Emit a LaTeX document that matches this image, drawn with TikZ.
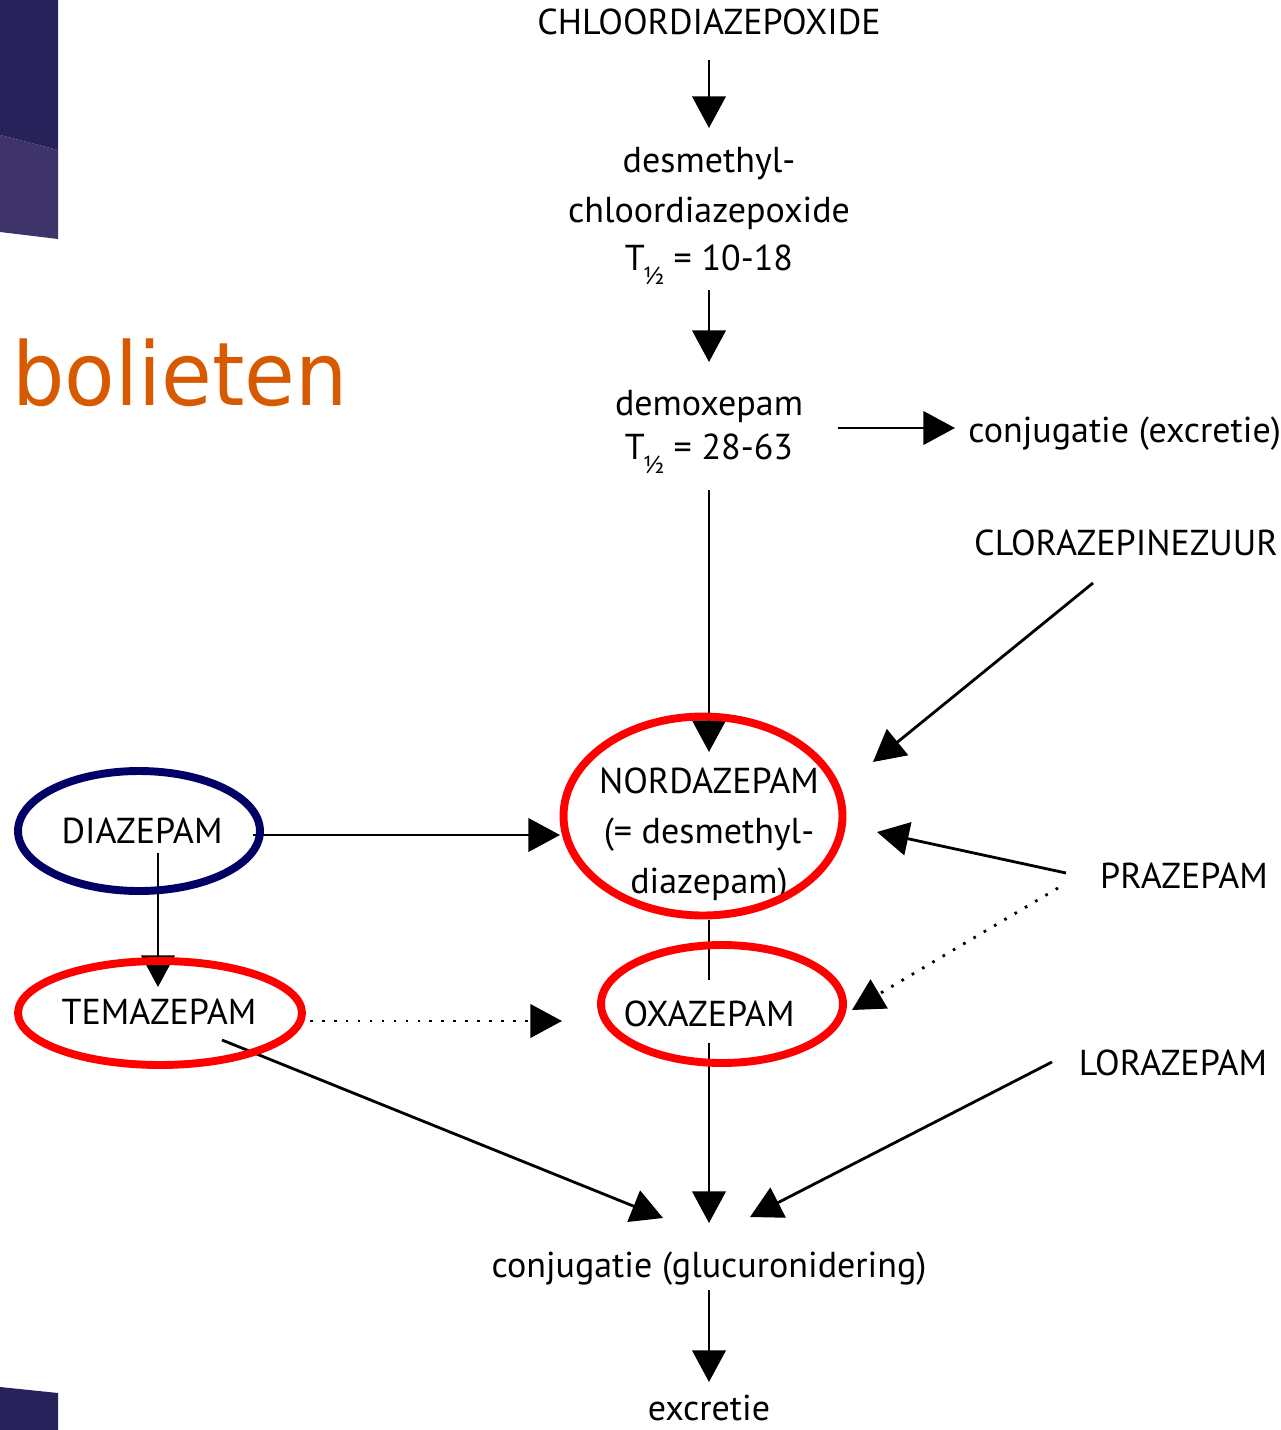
\documentclass[tikz,border=0pt]{standalone}
\usepackage{fontspec}
\setmainfont{PT Sans}
\newfontfamily\titlefont[FakeStretch=0.94]{DejaVu Sans}
\usetikzlibrary{arrows.meta,calc,shapes.geometric}
\definecolor{navyA}{HTML}{272259}
\definecolor{purpA}{HTML}{3E3469}
\definecolor{ringnavy}{HTML}{000066}
\definecolor{ringred}{HTML}{FF0000}
\definecolor{titleorange}{HTML}{D75A00}
\newcommand\halfsub{\kern-1pt\raisebox{-8.5pt}{\fontsize{14pt}{14pt}\selectfont ½}}
\begin{document}
\begin{tikzpicture}[x=0.02cm,y=-0.02cm,
  lbl/.style={inner sep=0pt, anchor=base, font=\fontsize{20.5pt}{24pt}\selectfont},
  arr/.style={line width=1.6pt, -{Triangle[width=19pt,length=18pt]}},
  plain/.style={line width=1.6pt},
  dotarr/.style={arr, dash pattern=on 1.5pt off 5.3pt},
  ring/.style={draw=#1, line width=4.5pt, ellipse, inner sep=0pt}]
\useasboundingbox (0,0) rectangle (1281,1430);
% decoration
\fill[navyA] (0,0) -- (58,0) -- (58,150) -- (0,135) -- cycle;
\fill[purpA] (0,135) -- (58,150) -- (58,239) -- (0,232) -- cycle;
\fill[navyA] (0,1387) -- (58,1393) -- (58,1430) -- (0,1430) -- cycle;
\node[inner sep=0pt, anchor=base west, text=titleorange, font=\titlefont\fontsize{50pt}{52pt}\selectfont] (title) at (12,405) {bolieten};
% labels
\node[lbl] (chlor) at (709,34) {CHLOORDIAZEPOXIDE};
\node[lbl] (desm1) at (709,172) {desmethyl-};
\node[lbl] (desm2) at (709,222) {chloordiazepoxide};
\node[lbl] (desm3) at (709,270) {T\halfsub{} = 10-18};
\node[lbl] (demox1) at (709,415) {demoxepam};
\node[lbl] (demox2) at (709,459) {T\halfsub{} = 28-63};
\node[lbl, anchor=base west] (conjexc) at (968,442) {conjugatie (excretie)};
\node[lbl] (cloraz) at (1126,555) {CLORAZEPINEZUUR};
\node[lbl] (nord1) at (709,793) {NORDAZEPAM};
\node[lbl] (nord2) at (709,843) {(= desmethyl-};
\node[lbl] (nord3) at (709,893) {diazepam)};
\node[lbl] (diaz) at (142,843) {DIAZEPAM};
\node[lbl] (temaz) at (159,1024) {TEMAZEPAM};
\node[lbl] (oxaz) at (709,1026) {OXAZEPAM};
\node[lbl] (praz) at (1184,888) {PRAZEPAM};
\node[lbl] (loraz) at (1173,1075) {LORAZEPAM};
\node[lbl] (conjgluc) at (709,1277) {conjugatie (glucuronidering)};
\node[lbl] (excr) at (709,1420) {excretie};
% connectors
\draw[arr] ($(chlor.base)+(0,26)$) -- ($(desm1.base)+(0,-44)$);
\draw[arr] ($(desm3.base)+(0,20)$) -- ($(demox1.base)+(0,-53)$);
\draw[arr] ($(demox1.base)+(129,13)$) -- ($(conjexc.base west)+(-13,-14)$);
\draw[arr] ($(demox2.base)+(0,31)$) -- ($(nord1.base)+(0,-41)$);
\draw[arr] ($(cloraz.base)+(-33,28)$) -- ($(nord1.base)+(164,-31)$);
\draw[arr] ($(diaz.base)+(111,-8)$) -- ($(nord2.base)+(-149,-8)$);
\draw[arr] ($(diaz.base)+(16,10)$) -- ($(temaz.base)+(-1,-37)$);
\draw[dotarr] ($(temaz.base)+(151,-3)$) -- ($(oxaz.base)+(-147,-5)$);
\draw[plain] ($(nord3.base)+(0,27)$) -- ($(oxaz.base)+(0,-46)$);
\draw[arr] ($(praz.base)+(-118,-15)$) -- ($(nord2.base)+(168,-11)$);
\draw[dotarr] ($(praz.base)+(-126,0)$) -- ($(oxaz.base)+(143,-16)$);
\draw[arr] ($(oxaz.base)+(0,17)$) -- ($(conjgluc.base)+(0,-54)$);
\draw[arr] ($(temaz.base)+(63,16)$) -- ($(conjgluc.base)+(-46,-59)$);
\draw[arr] ($(loraz.base)+(-121,-13)$) -- ($(conjgluc.base)+(41,-60)$);
\draw[arr] ($(conjgluc.base)+(0,13)$) -- ($(excr.base)+(0,-38)$);
% rings
\node[ring=ringred, minimum width=5.58cm, minimum height=3.98cm] (nordring) at (703,816) {};
\node[ring=ringred, minimum width=4.84cm, minimum height=2.36cm] (oxring) at (722,1004) {};
\node[ring=ringnavy, minimum width=4.84cm, minimum height=2.40cm] (diazring) at (139,831) {};
\node[ring=ringred, minimum width=5.68cm, minimum height=2.08cm] (temring) at (160,1013) {};
\end{tikzpicture}
\end{document}
